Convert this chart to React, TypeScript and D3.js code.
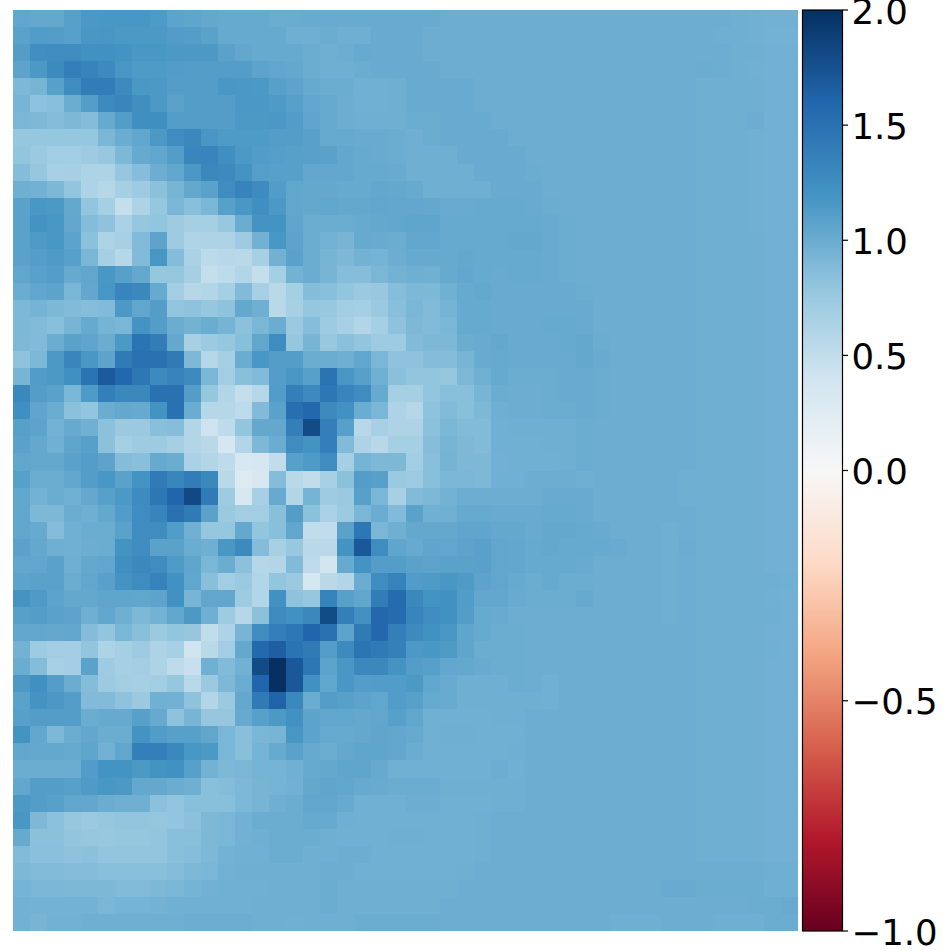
import React from 'react';
import * as d3 from 'd3';

// colour stops of the diverging map, dark red to dark blue
const colorStops = ['#67001f', '#b2182b', '#d6604d', '#f4a582', '#fddbc7', '#f7f7f7', '#d1e5f0', '#92c5de', '#4393c3', '#2166ac', '#053061'];
const normDomain = [-1, 0, 2];
const colorbarTicks = [-1, -0.5, 0, 0.5, 1, 1.5, 2];

// one row per image line, top to bottom
const heatValues: number[][] = [
[1.05,1.03,1.03,1.1,1.16,1.17,1.17,1.17,1.14,1.07,1.06,1.03,1.02,1.02,1.02,1.0,1.0, 1.01,1.01,1.01,1.01,1.01,1.01,1.01,1.01,.99,.99,.99,.99,.99,.99,.99,.99,.99, .99,.99,.99,.99,.99,.99,.99,.99,.98,.97,.96,.96],
[1.08,1.13,1.12,1.1,1.17,1.18,1.15,1.15,1.15,1.13,1.12,1.08,1.02,1.02,1.02,1.02,.98, .98,1.0,.98,.98,1.01,1.01,1.01,.99,.99,.99,.99,.99,.99,.99,.99,.99,.99, .99,.99,.99,.99,.99,.99,.99,.98,.98,.97,.95,.95],
[1.12,1.24,1.25,1.25,1.22,1.22,1.2,1.17,1.17,1.15,1.15,1.15,1.08,1.04,1.02,1.02,1.02, 1.0,.98,.99,1.02,1.01,1.01,1.01,.99,.99,.99,.99,.99,.99,.99,.99,.99,.99, .99,.99,.99,.99,.99,.99,.99,.99,.98,.98,.96,.96],
[1.07,1.15,1.28,1.38,1.34,1.28,1.18,1.14,1.14,1.13,1.12,1.12,1.12,1.12,1.07,1.05,1.03, 1.0,.98,.98,1.0,1.01,1.01,1.01,1.01,.99,.99,.99,.99,.99,.99,.99,.99,.99, .99,.99,.99,.99,.99,.99,1.0,.99,.98,.97,.96,.96],
[.9,.93,1.1,1.26,1.4,1.4,1.28,1.16,1.15,1.12,1.12,1.12,1.17,1.16,1.15,1.1,1.07, 1.02,1.0,1.0,.97,.97,.98,1.01,1.01,1.01,1.01,.99,.99,.99,.99,.99,.99,.99, .99,.99,.99,.99,.99,.99,.98,.98,.98,.98,.96,.96],
[.93,.82,.85,1.0,1.12,1.28,1.32,1.24,1.15,1.08,1.12,1.12,1.12,1.16,1.16,1.14,1.1, 1.04,1.02,.99,.97,.97,.98,1.01,1.01,1.01,1.01,.99,.99,.99,.99,.99,.99,.99, .99,.99,.99,.99,.99,.99,.98,.98,.98,.98,.96,.96],
[.92,.9,.87,.9,.87,1.02,1.12,1.24,1.24,1.12,1.12,1.12,1.12,1.15,1.15,1.16,1.13, 1.06,1.02,.99,.98,.98,.98,1.0,1.0,1.01,1.01,1.01,.99,.99,.99,.99,.99,.99, .99,.99,.99,.99,.99,.99,.98,.98,.98,.99,.96,.96],
[.78,.78,.78,.78,.78,.92,1.0,1.05,1.15,1.26,1.3,1.18,1.14,1.14,1.14,1.12,1.12, 1.09,1.02,1.02,1.01,1.01,1.0,.98,1.0,1.01,1.01,1.01,1.01,.99,.99,.99,.99,.99, .99,.99,.99,.99,.99,.99,.98,.98,.98,.97,.96,.96],
[.8,.75,.7,.7,.72,.76,.9,1.02,1.05,1.12,1.32,1.33,1.24,1.15,1.13,1.11,1.1, 1.09,1.08,1.04,1.02,1.01,1.0,.98,.98,.98,1.01,1.01,1.01,1.01,.99,.99,.99,.99, .99,.99,.99,.99,.99,.99,.98,.98,.98,.97,.96,.96],
[.87,.78,.66,.67,.63,.62,.77,.86,.99,1.05,1.16,1.3,1.28,1.2,1.11,1.1,1.1, 1.04,1.04,1.04,1.02,1.02,1.01,.98,.98,.98,.98,1.01,1.01,1.01,1.0,.99,.99,.99, .99,.99,.99,.99,.99,.99,.98,.98,.98,.97,.96,.96],
[.98,.96,.9,.8,.63,.58,.68,.72,.83,.93,1.03,1.08,1.25,1.34,1.27,1.13,1.05, 1.03,1.03,1.02,1.02,1.04,1.03,1.02,.98,.98,.98,.98,1.01,1.01,1.01,.99,.99,.99, .99,.99,.99,.99,.99,.99,.98,.98,.98,.97,.96,.96],
[1.08,1.17,1.15,1.03,.8,.68,.48,.62,.78,.92,.85,.92,1.1,1.17,1.24,1.15,1.05, 1.03,1.05,1.03,1.03,1.05,1.04,1.04,1.03,1.01,1.01,1.02,1.02,1.02,1.01,1.0,.99,.99, .99,.99,.99,.99,.99,.99,.98,.98,.98,.97,.96,.96],
[1.08,1.2,1.17,1.04,.87,.82,.65,.78,.8,.72,.68,.68,.76,1.0,1.2,1.2,1.06, 1.0,1.0,1.0,1.02,1.03,1.05,1.06,1.06,1.02,1.02,1.02,1.02,1.02,1.02,1.01,1.0,.99, .99,.99,.99,.99,.99,.99,.98,.98,.98,.97,.96,.96],
[1.08,1.14,1.17,1.07,.83,.63,.66,.88,1.07,.73,.61,.62,.62,.72,.96,1.17,1.07, 1.0,.95,.93,1.02,1.01,1.0,1.04,1.05,1.02,1.02,1.02,1.02,1.03,1.03,1.01,1.0,.99, .99,.99,.99,.99,.99,.99,.98,.98,.98,.98,.96,.96],
[1.08,1.12,1.14,1.1,.92,.68,.58,.88,1.18,.87,.65,.54,.56,.55,.66,.96,1.08, 1.0,.93,.9,.95,.94,.99,1.02,1.02,1.02,1.03,1.02,1.02,1.02,1.02,1.01,1.0,.99, .99,.99,.99,.99,.99,.99,.98,.98,.98,.98,.96,.96],
[1.05,1.09,1.12,1.02,1.05,1.17,1.1,1.03,.78,.79,.67,.48,.52,.6,.48,.68,.95, 1.0,.93,.86,.86,.92,.95,.98,.97,1.02,1.04,1.02,1.01,1.02,1.02,1.01,1.0,.99, .99,.99,.99,.99,.99,.99,.98,.98,.98,.98,.96,.96],
[1.0,1.05,1.07,.92,1.04,1.18,1.33,1.3,1.02,.7,.58,.6,.68,.88,.66,.55,.68, .87,.85,.8,.75,.76,.86,.9,.9,.97,1.02,1.03,1.01,1.01,1.01,1.01,1.01,1.0, .99,.99,.99,.99,.99,.99,.98,.98,.98,.98,.96,.96],
[.9,.94,.9,.88,.86,.88,1.15,1.05,1.12,.8,.82,.77,.82,1.03,.98,.55,.66, .78,.76,.7,.68,.75,.85,.92,.88,.94,1.02,1.02,1.01,1.01,1.01,1.01,1.01,1.01, .99,.99,.99,.99,.99,.99,.98,.98,.98,.98,.96,.96],
[.9,.88,.85,.93,1.02,.94,.92,1.2,1.12,1.0,.95,1.0,.94,.83,.92,1.0,.75, .86,.73,.66,.6,.68,.82,.9,.88,.92,1.02,1.02,1.01,1.01,1.01,1.02,1.02,1.01, .99,.99,.99,.99,.99,.99,.98,.98,.98,.98,.96,.96],
[.9,.88,1.0,1.08,1.06,1.0,1.15,1.48,1.4,1.03,.66,.74,.78,.85,1.05,1.25,.77, .93,.76,.84,.8,.73,.73,.88,.9,.9,1.0,1.01,1.03,1.01,1.01,1.01,1.02,1.03, 1.0,.99,.99,.99,.99,.99,.98,.98,.98,.98,.96,.96],
[.82,.9,1.15,1.32,1.17,1.07,1.42,1.5,1.5,1.42,.9,.58,.68,1.0,1.17,1.12,1.12, 1.0,1.0,.98,1.05,.92,.82,.82,.87,.87,.93,1.01,1.02,1.01,1.01,1.01,1.01,1.03, 1.01,.99,.99,.99,.99,.99,.98,.98,.98,.98,.96,.96],
[.93,1.13,1.15,1.23,1.48,1.68,1.58,1.45,1.28,1.35,1.28,.92,.7,.85,.88,1.12,1.18, 1.1,1.48,1.18,1.1,.97,.84,.8,.8,.78,.9,.97,1.02,1.0,1.0,1.0,1.01,1.01, 1.0,.99,.99,.99,.99,.99,.98,.98,.98,.98,.96,.96],
[1.3,1.12,1.08,.92,1.14,1.38,1.3,1.3,1.5,1.5,1.12,.78,.6,.48,.58,1.13,1.38, 1.28,1.45,1.33,1.25,1.02,.68,.68,.8,.85,.85,.93,1.0,.99,.99,1.0,1.01,1.01, 1.0,.99,.99,.99,.99,.99,.98,.98,.98,.98,.96,.96],
[1.24,1.06,1.0,.83,.8,1.0,1.03,1.02,1.2,1.5,1.0,.58,.58,.53,.88,1.08,1.52, 1.58,1.28,1.22,1.0,.92,.62,.58,.82,.88,.85,.9,.98,.99,.99,1.0,1.0,1.01, 1.0,.99,.99,.99,.99,.99,.98,.98,.98,.98,.96,.96],
[1.1,1.07,.95,1.02,.97,.83,.75,.75,.85,.86,.6,.42,.52,.8,1.03,1.03,1.38, 1.8,1.38,1.1,.56,.66,.62,.62,.83,.92,.88,.88,.97,.98,.98,.98,.98,1.0, .99,.99,.99,.99,.99,.99,.98,.98,.98,.98,.96,.96],
[1.08,1.03,.97,1.06,1.1,.83,.68,.72,.72,.67,.6,.55,.36,.6,.9,1.0,1.25, 1.2,1.38,.88,.62,.56,.68,.68,.86,.93,.9,.88,.97,.97,.97,.98,.98,1.0, .99,.99,.99,.99,.99,.99,.98,.98,.98,.98,.96,.96],
[1.05,1.03,1.03,1.08,1.12,1.07,.87,.85,1.02,1.0,.65,.6,.52,.34,.35,.5,1.1, 1.14,1.26,.68,.94,.9,.9,.7,.85,.94,.9,.9,.96,.97,.97,.97,.98,1.0, .99,.99,.99,.99,.99,.99,.98,.98,.98,.98,.96,.96],
[1.1,1.0,1.0,1.05,1.12,1.17,1.08,1.2,1.42,1.32,1.4,1.3,.55,.28,.33,.87,.55, .5,.66,.83,1.12,1.1,.75,.72,.85,.92,.92,.9,.97,.97,.99,.99,.99,.98, .99,.99,.99,.99,.99,.98,.98,.98,.98,.98,.96,.96],
[1.05,.95,1.0,.97,1.03,1.1,1.15,1.27,1.45,1.6,1.82,1.42,.72,.33,.66,1.02,.6, .94,.72,.75,1.1,.92,.66,.88,.9,.95,.99,.99,.99,.99,.99,1.01,1.01,1.01, .99,.99,.99,.99,.99,.98,.98,.98,.98,.98,.96,.96],
[1.05,.9,.9,1.0,.98,1.03,1.13,1.25,1.33,1.5,1.42,1.08,.75,.7,.7,.85,1.12, .83,.65,.74,.92,1.0,.88,1.08,.97,.97,1.02,1.02,1.01,1.01,1.01,1.02,1.02,1.01, .99,.99,.99,.99,.99,.99,.98,.98,.98,.98,.96,.96],
[1.05,1.02,.87,.97,1.0,1.0,1.08,1.25,1.25,1.13,.97,.78,.78,1.03,.8,.85,1.05, .5,.5,1.08,1.45,.92,.98,1.03,1.03,1.03,1.06,1.06,1.03,1.03,1.01,1.03,1.03,1.02, 1.01,.99,.99,.99,.98,.99,.98,.98,.98,.98,.96,.96],
[1.08,1.03,.98,.97,.99,1.0,1.2,1.25,1.08,1.08,1.0,.98,1.17,1.28,.87,.66,.76, .55,.55,1.2,1.7,1.25,1.06,1.02,1.06,1.05,1.07,1.09,1.05,1.04,1.02,1.03,1.02,1.02, 1.02,1.01,.99,.99,.98,1.0,.98,.98,.98,.98,.96,.96],
[1.05,1.05,1.08,.98,1.03,1.05,1.24,1.3,1.25,1.14,1.06,.92,1.0,.83,.58,.6,.88, .53,.38,1.02,1.2,1.12,1.12,1.08,1.07,1.08,1.08,1.09,1.05,1.04,1.02,1.02,1.02,1.01, .99,.99,.99,.99,.98,.99,.98,.98,.98,.98,.96,.96],
[1.07,1.08,1.08,1.0,1.05,1.09,1.2,1.25,1.35,1.22,1.05,.85,.7,.75,.6,.8,.75, .36,.55,.6,1.0,1.26,1.35,1.13,1.14,1.17,1.14,1.07,1.05,1.02,1.0,1.02,1.0,1.0, .99,.99,.99,.99,.98,.99,.98,.98,.98,.98,.98,.97],
[1.2,1.14,1.07,1.03,1.03,1.06,1.06,1.05,1.07,1.22,.93,1.05,1.05,.73,.6,1.22,.82, .78,1.35,1.1,1.05,1.4,1.55,1.3,1.2,1.22,1.13,1.04,1.04,1.01,1.0,1.0,1.0,1.02, .99,.99,.99,.99,.98,.99,.98,.98,.98,.98,.97,.96],
[1.1,1.12,1.08,1.07,.98,1.05,.98,.9,.95,1.05,1.15,.98,.72,.58,.83,1.27,1.22, 1.3,1.8,1.38,1.22,1.58,1.55,1.33,1.25,1.22,1.12,1.02,1.01,.99,.99,.99,.99,.99, .99,.99,.99,.99,.98,.99,.98,.98,.98,.98,.98,.96],
[1.05,1.05,1.03,1.05,.87,.8,.92,.85,.75,.8,.77,.5,.62,.93,1.25,1.38,1.45, 1.6,1.5,1.07,1.42,1.58,1.38,1.28,1.22,1.18,1.06,1.02,1.0,1.0,.99,.99,.99,.99, .99,.99,.99,.99,.99,.99,.98,.98,.98,.98,.96,.96],
[.95,.73,.7,.7,.8,.63,.68,.72,.62,.66,.4,.55,.7,1.03,1.57,1.65,1.48, 1.42,1.12,1.28,1.47,1.42,1.37,1.15,1.17,1.14,1.06,1.0,1.0,1.0,.99,.99,.99,.99, .99,.99,.99,.99,.99,.99,.98,.98,.98,.98,.97,.96],
[1.0,.87,.66,.7,1.08,.72,.68,.7,.63,.52,.46,.97,.88,.96,1.8,2.0,1.7, 1.45,1.07,1.17,1.3,1.3,1.2,1.12,1.1,1.04,1.03,1.01,1.0,1.0,.99,.99,.99,.99, .99,.99,.99,.99,.99,.99,.98,.98,.98,.98,.96,.96],
[1.15,1.23,1.12,1.0,.87,.74,.7,.68,.7,.78,.55,.75,.9,1.0,1.6,2.0,1.7, 1.22,1.05,1.17,1.12,1.13,1.13,1.15,1.05,1.01,.98,.98,.98,1.0,.99,.97,.99,.99, .99,.99,.99,.99,.99,.99,.98,.98,.98,.98,.96,.96],
[1.08,1.2,1.16,1.12,.88,.88,.82,.75,.97,.96,.82,.6,.75,1.03,1.42,1.62,1.3, 1.0,1.12,1.1,1.07,1.05,1.13,1.1,1.02,1.01,.98,.98,.98,.98,.98,.97,.99,.99, .99,.99,.99,.99,.99,.99,.98,.98,.98,.98,.96,.96],
[1.1,1.12,1.12,1.12,1.0,1.02,1.02,1.1,1.02,.82,.93,.77,.77,1.02,1.1,1.15,1.22, 1.07,1.05,1.05,1.03,1.05,1.1,1.05,.97,.97,.97,.97,.98,.98,.99,.99,.99,.99, .99,.99,.99,.99,.99,.99,.98,.98,.98,.98,.96,.96],
[1.2,1.04,.9,1.0,1.04,1.0,1.0,1.2,1.13,1.1,1.1,1.05,.92,.85,.92,.93,1.18, 1.07,1.02,1.02,1.03,1.06,1.04,1.02,.97,.98,.98,.97,.97,.97,.99,.99,.99,.99, .99,.99,.99,.99,.99,.99,.98,.98,.98,.98,.96,.96],
[1.05,1.03,1.03,1.02,1.06,.96,1.05,1.38,1.38,1.3,1.18,1.15,.92,.85,.94,1.02,1.08, 1.02,1.0,1.03,1.06,1.06,1.04,1.0,.97,.97,.97,.97,.97,.98,.99,.99,.99,.99, .99,.99,.99,.99,.99,.99,.98,.98,.98,.98,.96,.96],
[1.0,1.0,1.0,1.0,1.13,1.2,1.2,1.15,1.2,1.22,1.1,.95,.9,.92,.94,.94,.97, 1.02,1.03,1.06,1.06,1.02,.97,.97,.97,.97,.97,.97,.99,.97,.99,.99,.99,.99, .99,.99,.99,.99,.99,.99,.98,.98,.98,.98,.96,.96],
[1.04,1.12,1.12,1.1,1.14,1.17,1.15,1.03,1.03,1.0,.98,.85,.87,.9,.93,.94,.96, 1.03,1.06,1.05,1.02,1.01,1.0,1.0,1.0,.98,.98,.98,.98,.98,.99,.99,.99,.99, .99,.99,.99,.99,.99,.99,.98,.98,.98,.98,.96,.96],
[1.15,1.12,1.1,1.05,1.04,1.0,.98,.98,.83,.8,.85,.85,.85,.9,.93,.98,1.0, 1.05,1.05,1.02,.97,.97,.97,.99,.99,.97,.97,.97,.98,.98,.99,.99,.99,.99, .99,.99,.99,.99,.99,.99,.98,.98,.98,.98,.96,.96],
[1.17,.9,.83,.77,.75,.78,.8,.8,.79,.8,.83,.9,.92,.96,1.0,1.0,1.0, 1.02,1.02,.98,.97,.97,.97,.97,.97,.97,.97,.98,.99,.99,.99,.99,.99,.99, .99,.99,.99,.99,.99,.99,.98,.98,.98,.98,.96,.96],
[1.02,.83,.83,.8,.77,.76,.78,.78,.8,.85,.85,.9,.92,.96,.98,1.0,1.0, 1.0,.98,.97,.97,.97,.98,.98,.97,.97,.97,.98,.99,.99,.99,.99,.99,.99, .99,.99,.99,.99,.99,.99,.98,.98,.98,.98,.96,.96],
[.88,.84,.84,.82,.83,.8,.8,.8,.8,.85,.86,.9,.95,.97,.97,1.0,1.0, .98,.98,.99,.99,.97,.97,.97,.97,.97,.97,.98,.99,.99,.99,.99,.99,.99, .99,.99,.99,.99,.99,.99,.98,.98,.98,.98,.96,.96],
[.9,.88,.88,.87,.87,.85,.85,.85,.85,.87,.9,.92,.96,.98,.98,.98,.98, .98,.99,.99,.97,.97,.97,.97,.97,.97,.98,.99,.99,.99,.99,.99,.99,.99, .99,.99,.99,.99,.99,.99,.99,.99,.99,.99,.98,.98],
[.94,.92,.92,.9,.9,.9,.88,.88,.9,.92,.94,.96,.97,.97,.97,.98,.98, .98,1.0,.98,.98,.98,.98,.98,.98,.98,.99,.99,.99,.99,.99,.99,.99,.99, .99,.99,.99,.99,1.01,1.01,1.0,1.0,1.0,1.0,.98,.98],
[.96,.95,.95,.95,.95,.92,.94,.94,.95,.97,.97,.97,.97,.97,.98,.98,.98, .98,1.0,.98,.98,.98,.98,.98,.98,.99,.99,.99,.99,.99,.99,.99,.99,.99, .99,.99,.99,.99,.99,.99,.99,.99,.99,1.0,1.0,1.01],
[.96,.93,.96,.96,.98,.98,.98,.98,.98,.98,.99,.99,.99,.99,.98,.98,.97, .98,.98,.98,1.0,1.0,1.0,1.0,1.0,.99,.99,.99,.99,.99,.99,.99,.99,.99, .99,.98,.98,.98,.99,.99,.99,.98,.98,.98,1.0,1.0],
];

const nRows = heatValues.length;
const nCols = heatValues[0].length;

const tickText = (v: number) => d3.format('.1f')(v).replace('-', '\u2212');

const App = () => {
  const x = d3.scaleBand<number>().domain(d3.range(nCols)).range([13, 798]);
  const y = d3.scaleBand<number>().domain(d3.range(nRows)).range([10, 931]);

  // two slope norm: 0 sits at the middle of the map
  const norm = d3.scaleLinear().domain(normDomain).range([0, 0.5, 1]).clamp(true);
  const ramp = d3.scaleLinear<string>()
    .domain(colorStops.map((_, i) => i / (colorStops.length - 1)))
    .range(colorStops);
  const barY = d3.scaleLinear().domain(normDomain).range([931, 470.5, 10]);

  return (
    <svg width={945} height={950} style={{ position: 'absolute', left: 0, top: 0, background: '#fff' }}>
      <defs>
        <linearGradient id="cbar" x1="0" y1="1" x2="0" y2="0">
          {colorStops.map((c, i) => (
            <stop key={c} offset={i / (colorStops.length - 1)} stopColor={c} />
          ))}
        </linearGradient>
        <clipPath id="heat-clip">
          <rect x={13} y={10} width={785} height={921} />
        </clipPath>
      </defs>
      <g shapeRendering="crispEdges" clipPath="url(#heat-clip)">
        {heatValues.map((row, r) =>
          row.map((v, c) => (
            <rect
              key={`${r}-${c}`}
              x={x(c)}
              y={y(r)}
              width={x.bandwidth() + 0.5}
              height={y.bandwidth() + 0.5}
              fill={ramp(norm(v))}
            />
          ))
        )}
      </g>
      <rect x={802.5} y={10} width={40} height={921} fill="url(#cbar)" stroke="#000" strokeWidth={1.2} />
      {colorbarTicks.map(t => (
        <g key={t} transform={`translate(0,${barY(t)})`}>
          <line x1={842.5} x2={848} stroke="#000" strokeWidth={1.2} />
          <text
            x={851.5}
            dy="0.38em"
            fontFamily="'DejaVu Sans'"
            fontSize={35.5}
            fill="#000"
          >
            {tickText(t)}
          </text>
        </g>
      ))}
    </svg>
  );
};

export default App;
